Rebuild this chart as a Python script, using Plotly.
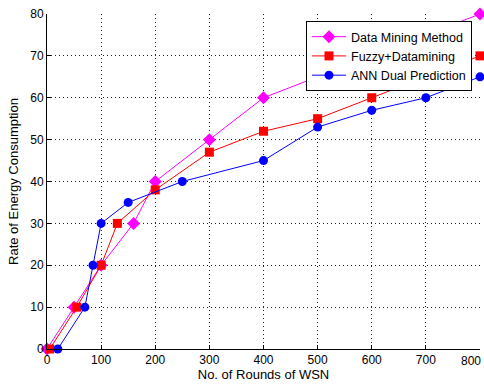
import plotly.graph_objects as go

dm_x = [0, 50, 100, 160, 200, 300, 400, 500, 600, 700, 800]
dm_y = [0, 10, 20, 30, 40, 50, 60, 65, 70, 75, 80]
fz_x = [5, 55, 100, 130, 200, 300, 400, 500, 600, 700, 800]
fz_y = [0, 10, 20, 30, 38, 47, 52, 55, 60, 65, 70]
ann_x = [20, 70, 85, 100, 150, 250, 400, 500, 600, 700, 800]
ann_y = [0, 10, 20, 30, 35, 40, 45, 53, 57, 60, 65]

x_ticks = [0, 100, 200, 300, 400, 500, 600, 700, 800]
y_ticks = [0, 10, 20, 30, 40, 50, 60, 70, 80]

FONT = "Liberation Sans, Arial"

fig = go.Figure()
fig.add_trace(go.Scatter(x=dm_x, y=dm_y, name="Data Mining Method", mode="lines+markers",
                         line=dict(color="#ff00ff", width=1), cliponaxis=False,
                         marker=dict(symbol="diamond", size=10, color="#ff00ff")))
fig.add_trace(go.Scatter(x=fz_x, y=fz_y, name="Fuzzy+Datamining", mode="lines+markers",
                         line=dict(color="#ff0000", width=1), cliponaxis=False,
                         marker=dict(symbol="square", size=9, color="#ff0000")))
fig.add_trace(go.Scatter(x=ann_x, y=ann_y, name="ANN Dual Prediction", mode="lines+markers",
                         line=dict(color="#0000ff", width=1), cliponaxis=False,
                         marker=dict(symbol="circle", size=9, color="#0000ff")))

axis_common = dict(showgrid=True, gridcolor="#222", griddash="1px,3px", gridwidth=1,
                   zeroline=False, showline=True, linecolor="black", linewidth=1,
                   ticks="inside", ticklen=4, tickcolor="black", automargin=False,
                   ticklabeloverflow="allow",
                   tickfont=dict(family=FONT, size=12, color="black"))

# last x tick label is drawn as an annotation so it stays inside the page
x_ticktext = [str(v) for v in x_ticks[:-1]] + [""]

fig.update_layout(
    width=484, height=389,
    margin=dict(l=47, r=4, t=14, b=40),
    paper_bgcolor="white", plot_bgcolor="white",
    font=dict(family=FONT, color="black", size=12),
    xaxis=dict(range=[0, 800], tickvals=x_ticks, ticktext=x_ticktext,
               title=dict(text="No. of Rounds of WSN", font=dict(size=13), standoff=2),
               **axis_common),
    yaxis=dict(range=[0, 80], tickvals=y_ticks,
               title=dict(text="Rate of Energy Consumption", font=dict(size=13), standoff=8),
               **axis_common),
    legend=dict(x=0.9815, y=0.979, xanchor="right", yanchor="top",
                bgcolor="white", bordercolor="black", borderwidth=1,
                font=dict(size=12.5, family=FONT),
                tracegroupgap=0, itemwidth=34),
    annotations=[dict(text=str(x_ticks[-1]), x=x_ticks[-1], xref="x", xanchor="right",
                      xshift=3, y=0, yref="paper", yanchor="top", yshift=-3,
                      showarrow=False, font=dict(family=FONT, size=12, color="black"))],
)

fig.write_html("out.html", config={"displayModeBar": False},
               post_script="document.body.style.margin='0';document.body.style.padding='0';")
